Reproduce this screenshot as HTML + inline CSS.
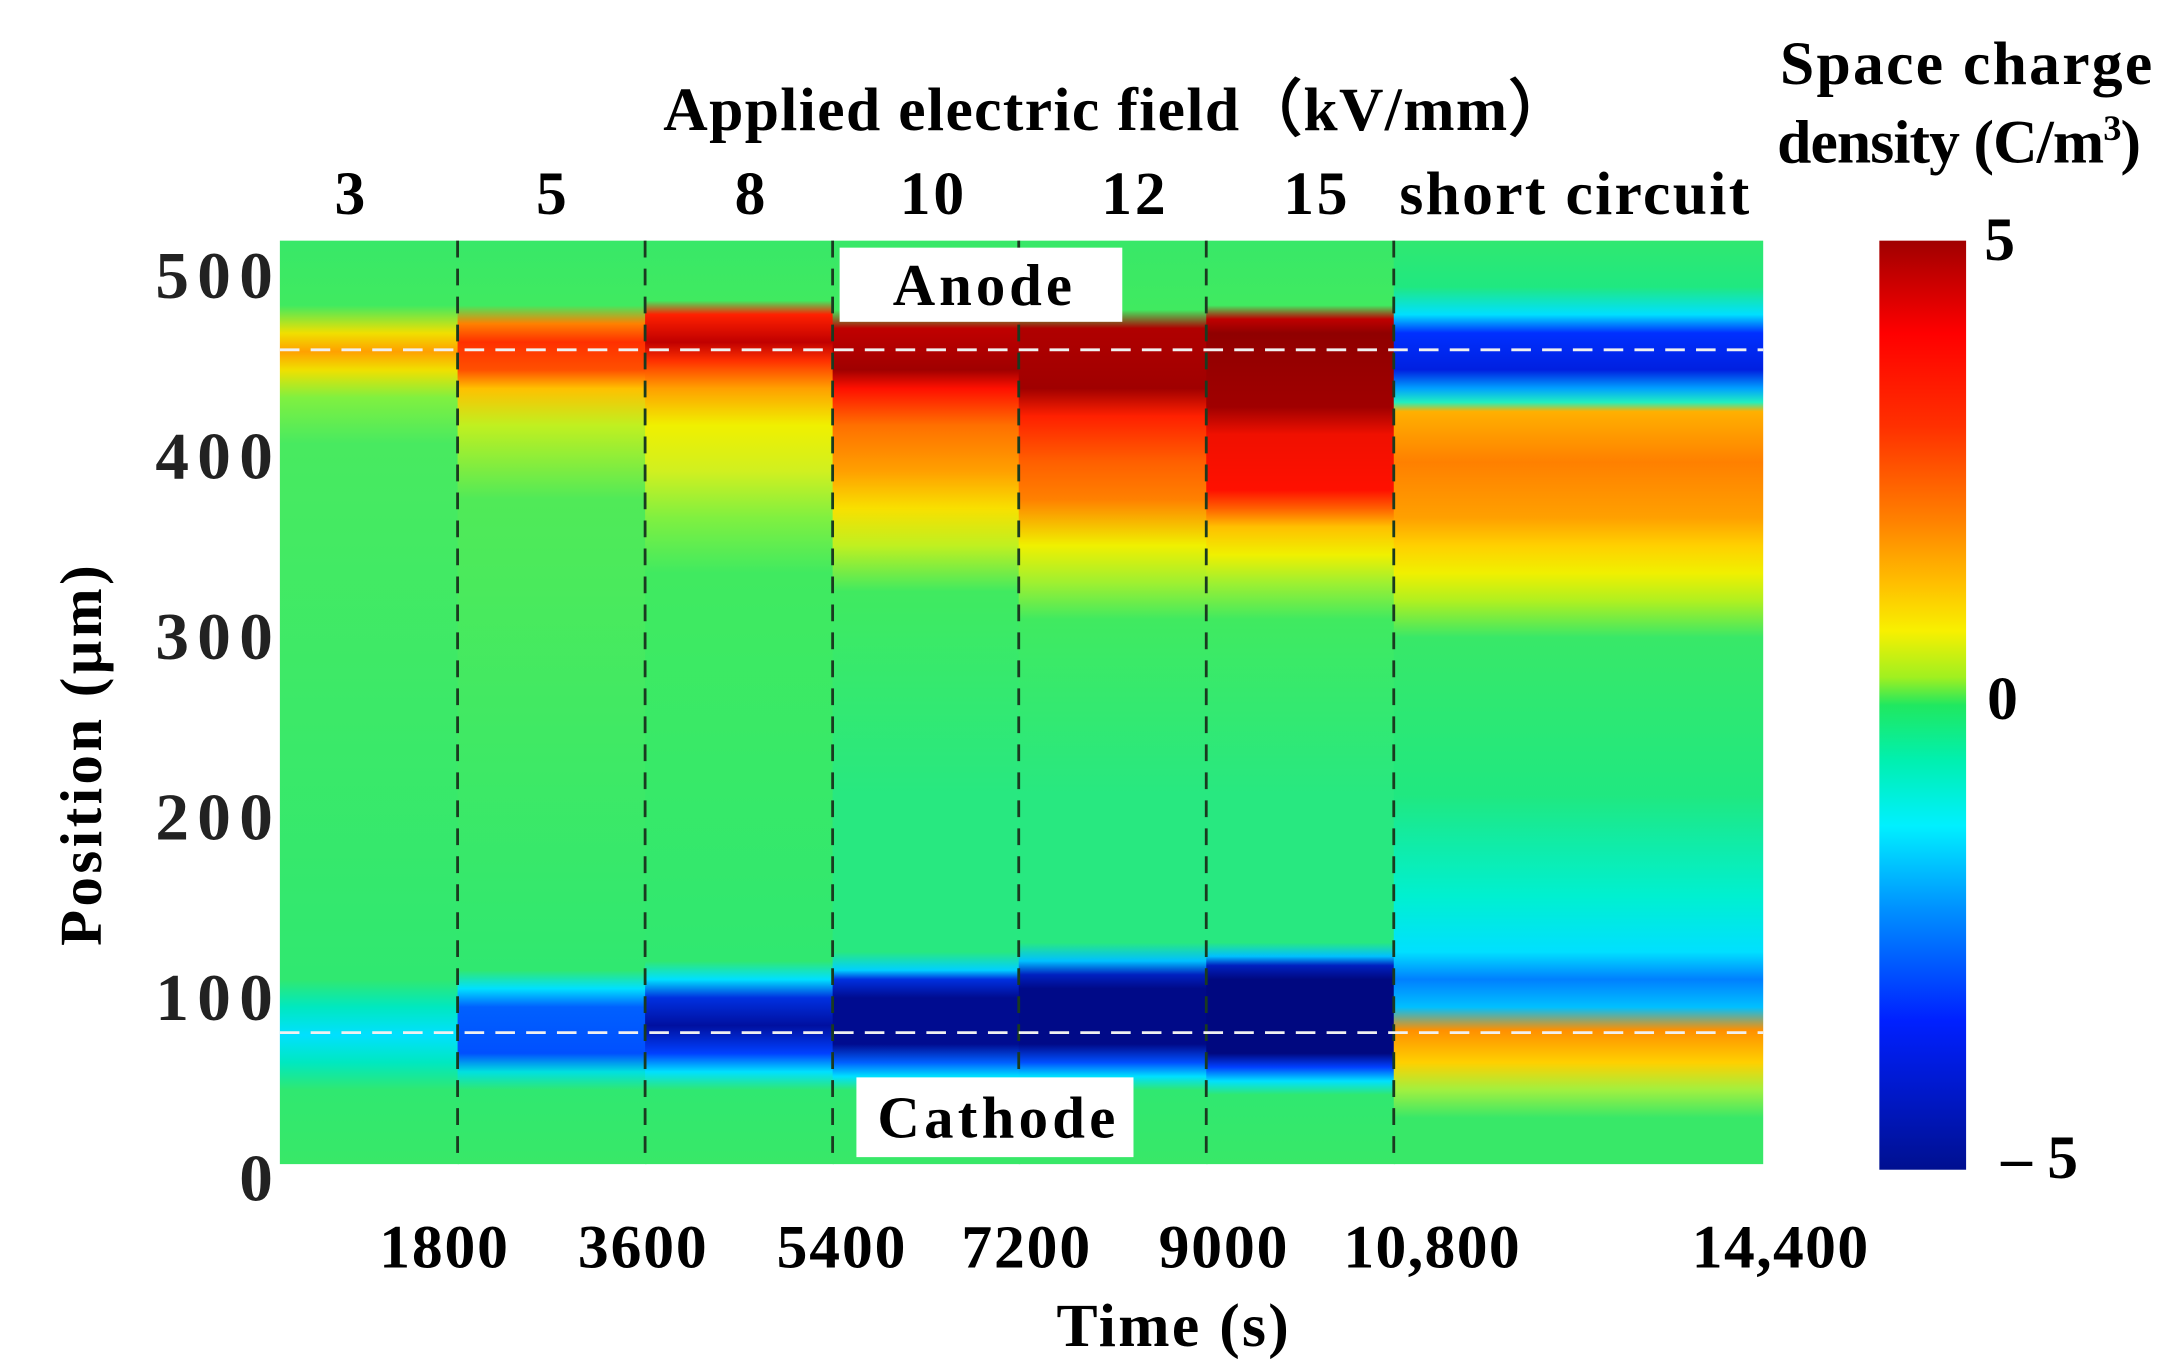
<!DOCTYPE html>
<html><head><meta charset="utf-8"><style>html,body{margin:0;padding:0;background:#fff;overflow:hidden}svg{display:block}</style></head><body>
<svg width="2183" height="1367" viewBox="0 0 1560 977" preserveAspectRatio="none" xmlns="http://www.w3.org/2000/svg" font-family="'Liberation Serif',serif" font-weight="bold">
<defs>
<linearGradient id="s1" x1="0" y1="0" x2="0" y2="1">
<stop offset="0" stop-color="#38e868"/><stop offset=".07" stop-color="#40ea60"/><stop offset=".1" stop-color="#f0e000"/><stop offset=".12" stop-color="#ffa000"/><stop offset=".14" stop-color="#f0e000"/><stop offset=".17" stop-color="#80f040"/><stop offset=".22" stop-color="#48ea60"/><stop offset=".8" stop-color="#30e870"/><stop offset=".83" stop-color="#00e8c0"/><stop offset=".86" stop-color="#00e0ff"/><stop offset=".89" stop-color="#00e8c0"/><stop offset=".92" stop-color="#30e870"/><stop offset="1" stop-color="#38e868"/></linearGradient>
<linearGradient id="s2" x1="0" y1="0" x2="0" y2="1">
<stop offset="0" stop-color="#38e868"/><stop offset=".07" stop-color="#40ea60"/><stop offset=".09" stop-color="#ff8000"/><stop offset=".11" stop-color="#ff3000"/><stop offset=".14" stop-color="#ff5000"/><stop offset=".16" stop-color="#ffc000"/><stop offset=".2" stop-color="#c0f020"/><stop offset=".28" stop-color="#50ea58"/><stop offset=".79" stop-color="#30e870"/><stop offset=".81" stop-color="#00e0ff"/><stop offset=".83" stop-color="#0060ff"/><stop offset=".88" stop-color="#0050ff"/><stop offset=".9" stop-color="#00e0e0"/><stop offset=".92" stop-color="#30e870"/><stop offset="1" stop-color="#38e868"/></linearGradient>
<linearGradient id="s3" x1="0" y1="0" x2="0" y2="1">
<stop offset="0" stop-color="#38e868"/><stop offset=".065" stop-color="#40ea60"/><stop offset=".08" stop-color="#ff2000"/><stop offset=".11" stop-color="#c00000"/><stop offset=".13" stop-color="#ff3000"/><stop offset=".16" stop-color="#ffa000"/><stop offset=".2" stop-color="#f0f000"/><stop offset=".25" stop-color="#d0f020"/><stop offset=".3" stop-color="#80f040"/><stop offset=".36" stop-color="#40ea60"/><stop offset=".78" stop-color="#30e870"/><stop offset=".8" stop-color="#00e0ff"/><stop offset=".82" stop-color="#0030e0"/><stop offset=".85" stop-color="#0010a0"/><stop offset=".88" stop-color="#0040ff"/><stop offset=".9" stop-color="#00e0ff"/><stop offset=".92" stop-color="#30e870"/><stop offset="1" stop-color="#38e868"/></linearGradient>
<linearGradient id="s4" x1="0" y1="0" x2="0" y2="1">
<stop offset="0" stop-color="#38e868"/><stop offset=".075" stop-color="#40ea60"/><stop offset=".095" stop-color="#c00000"/><stop offset=".14" stop-color="#a00000"/><stop offset=".16" stop-color="#ff1000"/><stop offset=".2" stop-color="#ff7000"/><stop offset=".25" stop-color="#ffa000"/><stop offset=".29" stop-color="#f8e000"/><stop offset=".33" stop-color="#c0f020"/><stop offset=".38" stop-color="#40ea60"/><stop offset=".6" stop-color="#28e880"/><stop offset=".77" stop-color="#28e880"/><stop offset=".79" stop-color="#00d0ff"/><stop offset=".8" stop-color="#0030e0"/><stop offset=".82" stop-color="#000c90"/><stop offset=".87" stop-color="#000c90"/><stop offset=".89" stop-color="#0060ff"/><stop offset=".905" stop-color="#00e0ff"/><stop offset=".92" stop-color="#30e870"/><stop offset="1" stop-color="#38e868"/></linearGradient>
<linearGradient id="s5" x1="0" y1="0" x2="0" y2="1">
<stop offset="0" stop-color="#38e868"/><stop offset=".075" stop-color="#40ea60"/><stop offset=".095" stop-color="#b00000"/><stop offset=".16" stop-color="#a00000"/><stop offset=".19" stop-color="#ff2000"/><stop offset=".24" stop-color="#ff6000"/><stop offset=".28" stop-color="#ff8000"/><stop offset=".33" stop-color="#f0f000"/><stop offset=".37" stop-color="#a0f030"/><stop offset=".41" stop-color="#40ea60"/><stop offset=".6" stop-color="#28e880"/><stop offset=".76" stop-color="#28e880"/><stop offset=".78" stop-color="#00c0ff"/><stop offset=".795" stop-color="#0020c0"/><stop offset=".81" stop-color="#000a88"/><stop offset=".87" stop-color="#000a88"/><stop offset=".89" stop-color="#0050ff"/><stop offset=".905" stop-color="#00e0ff"/><stop offset=".92" stop-color="#30e870"/><stop offset="1" stop-color="#38e868"/></linearGradient>
<linearGradient id="s6" x1="0" y1="0" x2="0" y2="1">
<stop offset="0" stop-color="#38e868"/><stop offset=".07" stop-color="#40ea60"/><stop offset=".085" stop-color="#c00000"/><stop offset=".1" stop-color="#900000"/><stop offset=".18" stop-color="#a00000"/><stop offset=".21" stop-color="#f01000"/><stop offset=".27" stop-color="#ff1000"/><stop offset=".29" stop-color="#ff6000"/><stop offset=".31" stop-color="#ffc000"/><stop offset=".34" stop-color="#f0f000"/><stop offset=".37" stop-color="#a0f030"/><stop offset=".41" stop-color="#40ea60"/><stop offset=".6" stop-color="#28e880"/><stop offset=".76" stop-color="#28e880"/><stop offset=".775" stop-color="#00c0ff"/><stop offset=".785" stop-color="#0020c0"/><stop offset=".8" stop-color="#000880"/><stop offset=".88" stop-color="#000880"/><stop offset=".895" stop-color="#0040ff"/><stop offset=".91" stop-color="#00e0ff"/><stop offset=".925" stop-color="#30e870"/><stop offset="1" stop-color="#38e868"/></linearGradient>
<linearGradient id="s7" x1="0" y1="0" x2="0" y2="1">
<stop offset="0" stop-color="#30e870"/><stop offset=".05" stop-color="#20e880"/><stop offset=".08" stop-color="#00e0ff"/><stop offset=".1" stop-color="#0030ff"/><stop offset=".14" stop-color="#0020e0"/><stop offset=".16" stop-color="#00a0ff"/><stop offset=".175" stop-color="#20f0c0"/><stop offset=".185" stop-color="#ffb000"/><stop offset=".24" stop-color="#ff8000"/><stop offset=".3" stop-color="#ffa000"/><stop offset=".33" stop-color="#ffd000"/><stop offset=".36" stop-color="#f0f000"/><stop offset=".39" stop-color="#b0f020"/><stop offset=".43" stop-color="#38e868"/><stop offset=".6" stop-color="#20e880"/><stop offset=".71" stop-color="#00f0d0"/><stop offset=".77" stop-color="#00e0ff"/><stop offset=".8" stop-color="#0080ff"/><stop offset=".83" stop-color="#00c0ff"/><stop offset=".855" stop-color="#ff9000"/><stop offset=".89" stop-color="#ffd000"/><stop offset=".92" stop-color="#a0f040"/><stop offset=".95" stop-color="#38e868"/><stop offset="1" stop-color="#38e868"/></linearGradient>
<linearGradient id="cb" x1="0" y1="0" x2="0" y2="1">
<stop offset="0" stop-color="#a00000"/><stop offset=".1" stop-color="#ff0000"/><stop offset=".2" stop-color="#ff3000"/><stop offset=".3" stop-color="#ff8000"/><stop offset=".37" stop-color="#ffc000"/><stop offset=".42" stop-color="#f8f000"/><stop offset=".47" stop-color="#a0f020"/><stop offset=".5" stop-color="#20e860"/><stop offset=".56" stop-color="#00f0b0"/><stop offset=".63" stop-color="#00f0ff"/><stop offset=".72" stop-color="#0090ff"/><stop offset=".84" stop-color="#0020ff"/><stop offset="1" stop-color="#001090"/></linearGradient>
</defs>
<rect width="1560" height="977" fill="#fff"/>
<g>
<rect x="200" y="172" width="128" height="660" fill="url(#s1)"/>
<rect x="327" y="172" width="135" height="660" fill="url(#s2)"/>
<rect x="461" y="172" width="135" height="660" fill="url(#s3)"/>
<rect x="595" y="172" width="134" height="660" fill="url(#s4)"/>
<rect x="728" y="172" width="135" height="660" fill="url(#s5)"/>
<rect x="862" y="172" width="135" height="660" fill="url(#s6)"/>
<rect x="996" y="172" width="264" height="660" fill="url(#s7)"/>
</g>
<g stroke="#1a3a20" stroke-width="2" stroke-dasharray="12,8">
<line x1="327" y1="172" x2="327" y2="832"/><line x1="461" y1="172" x2="461" y2="832"/><line x1="595" y1="172" x2="595" y2="832"/><line x1="728" y1="172" x2="728" y2="832"/><line x1="862" y1="172" x2="862" y2="832"/><line x1="996" y1="172" x2="996" y2="832"/>
</g>
<g stroke="#f0f0f0" stroke-width="2" stroke-dasharray="14,8">
<line x1="200" y1="250" x2="1260" y2="250"/><line x1="200" y1="738" x2="1260" y2="738"/>
</g>
<rect x="600" y="177" width="202" height="53" fill="#fff"/>
<rect x="612" y="770" width="198" height="57" fill="#fff"/>
<g font-size="42" fill="#000" text-anchor="middle">
<text x="702" y="218" textLength="128">Anode</text>
<text x="712" y="813" textLength="170">Cathode</text>
</g>
<g font-size="48" fill="#222" text-anchor="end">
<text x="195" y="213" textLength="84">500</text><text x="195" y="342" textLength="84">400</text><text x="195" y="471" textLength="84">300</text><text x="195" y="600" textLength="84">200</text><text x="195" y="729" textLength="84">100</text><text x="195" y="858">0</text>
</g>
<text transform="translate(72,540) rotate(-90)" font-size="42" text-anchor="middle" textLength="272">Position (μm)</text>
<g font-size="44" text-anchor="middle">
<text x="317" y="906" textLength="92">1800</text><text x="459" y="906" textLength="92">3600</text><text x="601" y="906" textLength="92">5400</text><text x="733" y="906" textLength="92">7200</text><text x="874" y="906" textLength="92">9000</text><text x="1023" y="906" textLength="126">10,800</text><text x="1272" y="906" textLength="126">14,400</text>
<text x="838" y="962" textLength="166">Time (s)</text>
<text x="798" y="93" textLength="648">Applied electric field（kV/mm）</text>
<text x="250" y="153">3</text><text x="394" y="153">5</text><text x="536" y="153">8</text><text x="666" y="153" textLength="46">10</text><text x="810" y="153" textLength="46">12</text><text x="940" y="153" textLength="46">15</text><text x="1125" y="153" textLength="250">short circuit</text>
<text x="1405" y="60" textLength="266">Space charge</text>
<text x="1400" y="116" textLength="260">density (C/m<tspan font-size="26" dy="-16">3</tspan><tspan dy="16">)</tspan></text>
</g>
<rect x="1343" y="172" width="62" height="664" fill="url(#cb)"/>
<g font-size="44">
<text x="1418" y="186">5</text><text x="1420" y="514">0</text><text x="1430" y="842">– 5</text>
</g>
</svg>
</body></html>
